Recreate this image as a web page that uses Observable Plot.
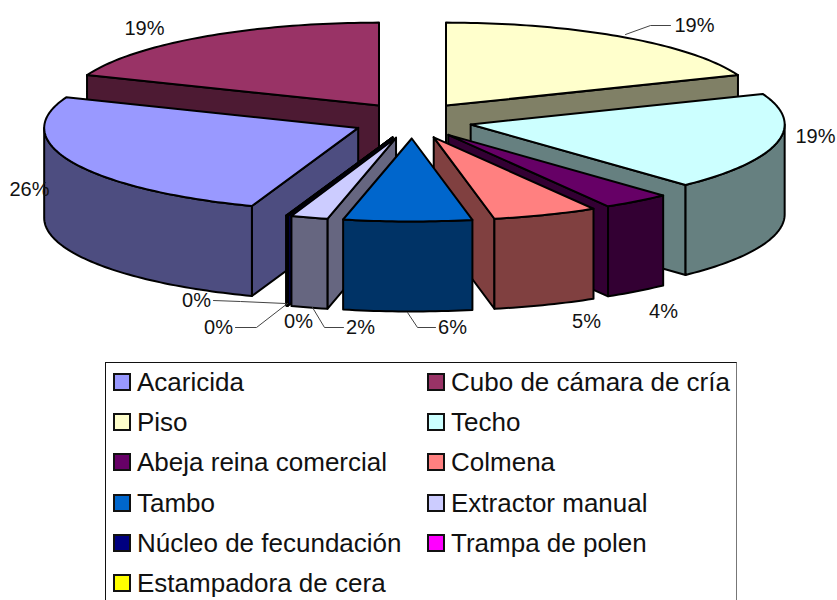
<!DOCTYPE html>
<html><head><meta charset="utf-8">
<script src="https://cdn.jsdelivr.net/npm/d3@7"></script>
<script src="https://cdn.jsdelivr.net/npm/@observablehq/plot@0.6"></script>
<style>
html,body{margin:0;padding:0;width:837px;height:600px;overflow:hidden;background:#fff}
svg{display:block}
#legend{position:absolute;left:105px;top:362px;width:632px;height:260px;box-sizing:border-box;border:1px solid #111;border-right-color:#777;font:26px "Liberation Sans",Arial,sans-serif;color:#111}
.it{position:absolute;white-space:nowrap;line-height:30px;height:30px}
.sw{position:absolute;left:0;top:6px;width:18px;height:18px;box-sizing:border-box;border:2px solid #111}
.tx{position:absolute;left:24px;top:0}
</style></head><body>
<div id="chart"></div>
<div id="legend"></div>
<script>
// chart values (percent, clockwise from Piso at 12 o'clock)
const categories = ["Piso","Techo","Abeja reina comercial","Colmena","Tambo","Extractor manual","Núcleo de fecundación","Trampa de polen","Estampadora de cera","Acaricida","Cubo de cámara de cría"];
const values     = [19, 19, 3.5, 5.4, 6.6, 1.9, 0.03, 0.03, 0.03, 25.5, 19];
const percentLabels = [19, 19, 4, 5, 6, 2, 0, 0, 0, 26, 19];
const topColors  = ["#FFFFCC","#CCFFFF","#660066","#FF8080","#0066CC","#CCCCFF","#000080","#FF00FF","#FFFF00","#9999FF","#993366"];
const wallColors = ["#808066","#668080","#330033","#804040","#003366","#666680","#000040","#800080","#808000","#4D4D80","#4D1A33"];
const legendOrder = ["Acaricida","Cubo de cámara de cría","Piso","Techo","Abeja reina comercial","Colmena","Tambo","Extractor manual","Núcleo de fecundación","Trampa de polen","Estampadora de cera"];

// pie projection
const cx = 412, cy = 120, rx = 314, ry = 83, depth = 90, ex = 59.6, ey = 18;
const P = (c, a, r = 1, dz = 0) => [c[0] + rx * r * Math.sin(a), c[1] - ry * r * Math.cos(a) + dz];
const total = d3.sum(values);
const TAU = Math.PI * 2;
let acc = 0;
const slices = categories.map((name, i) => {
  const a = acc / total * TAU; acc += values[i]; const b = acc / total * TAU;
  const m = (a + b) / 2;
  return {name, i, a, b, m, c: [cx + ex * Math.sin(m), cy - ey * Math.cos(m)]};
});
const arcPts = (c, a, b, dz = 0) => {
  const n = Math.max(2, Math.ceil((b - a) / 0.02));
  return d3.range(n + 1).map(k => P(c, a + (b - a) * k / n, 1, dz));
};
const polys = [];
let pid = 0;
const addPoly = (pts, fill) => {
  const id = pid++;
  [...pts, pts[0]].forEach(p => polys.push({id, x: p[0], y: p[1], fill}));
};
// painter's order: back to front
[...slices].sort((s, t) => -Math.cos(s.m) - -Math.cos(t.m)).forEach(s => {
  const {a, b, c, i} = s, w = wallColors[i];
  const edge = ang => addPoly([c, P(c, ang), P(c, ang, 1, depth), [c[0], c[1] + depth]], w);
  if (a > Math.PI) edge(a);
  if (b < Math.PI) edge(b);
  const fa = Math.max(a, Math.PI / 2), fb = Math.min(b, 3 * Math.PI / 2);
  if (fb > fa) addPoly([...arcPts(c, fa, fb), ...arcPts(c, fa, fb, depth).reverse()], w);
  addPoly([c, ...arcPts(c, a, b)], topColors[i]);
});

// data-label layout, same order as categories
const labelX = [694, 815, 663, 586, 452, 360, 298, 218, 196, 29, 144];
const labelY = [25, 136, 311, 321, 327, 327, 321, 327, 300, 189, 28];
const labels = categories.map((name, i) => ({name, text: percentLabels[i] + "%", x: labelX[i], y: labelY[i]}));
const leaderRuns = [
  [[625,34],[650,25],[670,25]],
  [[407,312],[417,327],[435,327]],
  [[312,307],[324,327],[343,327]],
  [[287,303],[256,327],[235,327]],
  [[213,300],[240,301],[285,303]]
];
const leaders = leaderRuns.flatMap((run, id) => run.map(p => ({id, x: p[0], y: p[1]})));

const chart = Plot.plot({
  width: 837, height: 362, margin: 0,
  x: {domain: [0, 837], range: [0, 837], axis: null},
  y: {domain: [0, 362], range: [0, 362], axis: null},
  color: {type: "identity"},
  marks: [
    Plot.line(polys, {x: "x", y: "y", z: "id", fill: "fill", stroke: "#000", strokeWidth: 2, curve: "linear", strokeLinejoin: "round"}),
    Plot.line(leaders, {x: "x", y: "y", z: "id", stroke: "#444", strokeWidth: 1, curve: "linear"}),
    Plot.text(labels, {x: "x", y: "y", text: "text", fontSize: 20, fill: "#111", fontFamily: "Liberation Sans, Arial, sans-serif"})
  ]
});
document.getElementById("chart").append(chart);

// legend
const legendEl = document.getElementById("legend");
legendOrder.forEach((name, k) => {
  const i = categories.indexOf(name);
  const col = k % 2, row = Math.floor(k / 2);
  const it = document.createElement("div");
  it.className = "it";
  it.style.left = (col ? 321 : 7) + "px";
  it.style.top = (4 + row * 40.2) + "px";
  const sw = document.createElement("div");
  sw.className = "sw"; sw.style.background = topColors[i];
  const tx = document.createElement("div");
  tx.className = "tx"; tx.textContent = name;
  it.append(sw, tx);
  legendEl.append(it);
});
</script>
</body></html>
